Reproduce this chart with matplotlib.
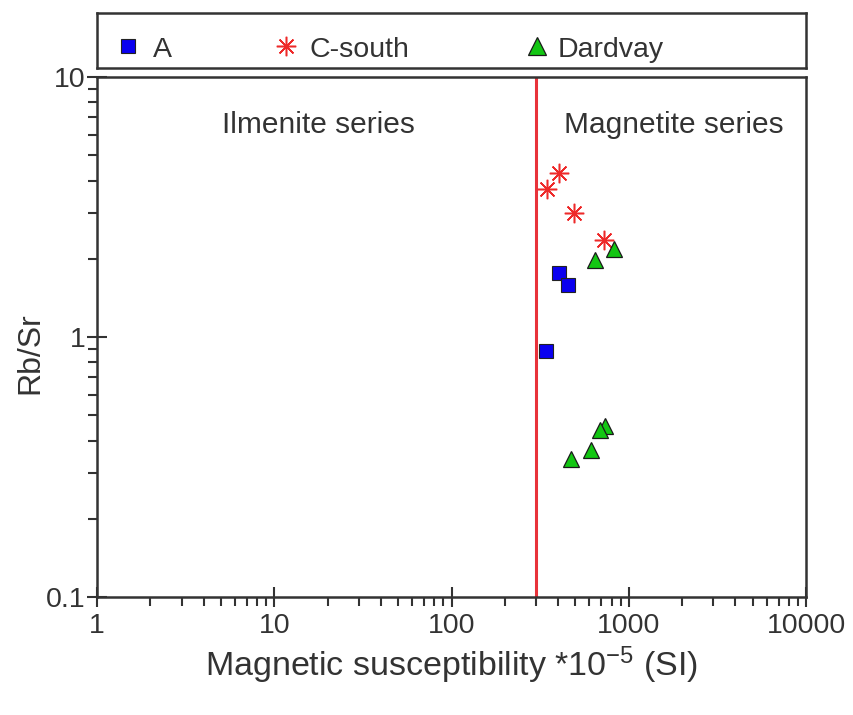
import numpy as np
import matplotlib.pyplot as plt
from matplotlib.ticker import LogLocator, FixedLocator, NullFormatter

plt.rcParams['font.family'] = ['Liberation Sans', 'DejaVu Sans']
plt.rcParams['mathtext.default'] = 'regular'

# data
a_x = [406, 456, 342]
a_y = [1.77, 1.585, 0.884]
cs_x = [406, 344, 493, 728]
cs_y = [4.28, 3.70, 3.01, 2.36]
dv_x = [645, 826, 738, 688, 609, 474]
dv_y = [1.98, 2.19, 0.455, 0.439, 0.368, 0.339]
boundary = 300
x_ticks = [1, 10, 100, 1000, 10000]
y_ticks = [0.1, 1, 10]

dark = '#333333'
red = '#ee2a2a'
blue = '#0a00f0'
green = '#13c613'

fig = plt.figure(figsize=(8.54, 7.15), dpi=100)
ax = fig.add_axes([0.1136, 0.165, 0.8302, 0.727])

ax.axvline(boundary, color='#e8323a', lw=2.2, zorder=1)
ax.plot(cs_x, cs_y, ls='none', marker=(8, 2, 0), ms=14, mec=red, mew=1.1, zorder=3)
ax.plot(a_x, a_y, ls='none', marker='s', ms=9.5, mfc=blue, mec='#222222', mew=0.8, zorder=3)
ax.plot(dv_x, dv_y, ls='none', marker='^', ms=12, mfc=green, mec='#1a1a1a', mew=0.9, zorder=3)

ax.set_xscale('log')
ax.set_yscale('log')
ax.set_xlim(1, 10000)
ax.set_ylim(0.1, 10)

ax.xaxis.set_major_locator(FixedLocator(x_ticks))
ax.yaxis.set_major_locator(FixedLocator(y_ticks))
ax.set_xticklabels([str(v) for v in x_ticks])
ax.set_yticklabels([str(v) for v in y_ticks])
ax.xaxis.set_minor_locator(LogLocator(base=10, subs=np.arange(2, 10)))
ax.yaxis.set_minor_locator(LogLocator(base=10, subs=np.arange(2, 10)))
ax.xaxis.set_minor_formatter(NullFormatter())
ax.yaxis.set_minor_formatter(NullFormatter())

ax.tick_params(which='major', direction='inout', length=15, width=1.5, color=dark,
               labelsize=20.5, labelcolor=dark, pad=1)
ax.tick_params(axis='x', which='major', pad=4)
ax.tick_params(which='minor', direction='out', length=6.5, width=1.5, color=dark)
for s in ax.spines.values():
    s.set_color(dark)
    s.set_linewidth(1.8)

ax.text(0.313, 0.892, 'Ilmenite series', transform=ax.transAxes, ha='center', va='baseline',
        fontsize=21.5, color=dark)
ax.text(0.814, 0.892, 'Magnetite series', transform=ax.transAxes, ha='center', va='baseline',
        fontsize=21.5, color=dark)

ax.set_ylabel('Rb/Sr', fontsize=23, color=dark)
ax.yaxis.set_label_coords(-0.073, 0.47)
ax.set_xlabel('Magnetic susceptibility *10$^{-5}$ (SI)', fontsize=24.5, color=dark, labelpad=4)

# legend box
lax = fig.add_axes([0.1136, 0.905, 0.8302, 0.077])
lax.set_xlim(0, 1)
lax.set_ylim(0, 1)
lax.set_xticks([])
lax.set_yticks([])
for s in lax.spines.values():
    s.set_color(dark)
    s.set_linewidth(1.8)
my = 0.4
ty = 0.2
lax.plot([0.043], [my], marker='s', ms=9.5, mfc=blue, mec='#222222', mew=0.8)
lax.text(0.079, ty, 'A', fontsize=20.5, color=dark, va='baseline')
lax.plot([0.267], [my], marker=(8, 2, 0), ms=14, mec=red, mew=1.1)
lax.text(0.299, ty, 'C-south', fontsize=20.5, color=dark, va='baseline')
lax.plot([0.621], [my], marker='^', ms=13, mfc=green, mec='#1a1a1a', mew=0.9)
lax.text(0.650, ty, 'Dardvay', fontsize=20.5, color=dark, va='baseline')

fig.savefig('out.png', dpi=100)
